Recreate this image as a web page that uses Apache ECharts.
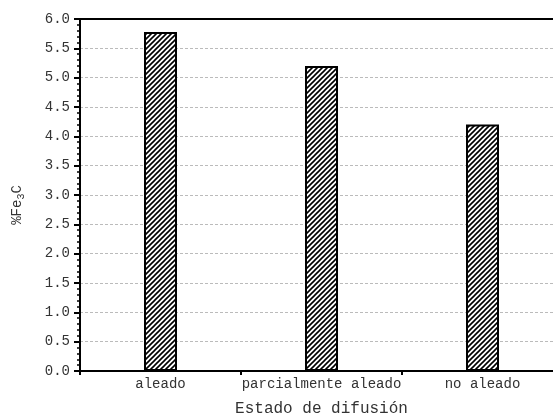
<!DOCTYPE html>
<html><head><meta charset="utf-8">
<script src="https://cdn.jsdelivr.net/npm/echarts@6/dist/echarts.min.js"></script>
<style>html,body{margin:0;padding:0;background:#fff}#c{width:553px;height:416px}</style>
</head><body><div id="c"></div>
<script>
const categories = ['aleado', 'parcialmente aleado', 'no aleado'];
const values = [5.78, 5.2, 4.2];
const yTicks = [0, 0.5, 1, 1.5, 2, 2.5, 3, 3.5, 4, 4.5, 5, 5.5, 6];

function hatch() {
  const s = 5;
  const cv = document.createElement('canvas');
  cv.width = s; cv.height = s;
  const g = cv.getContext('2d');
  g.fillStyle = '#fff'; g.fillRect(0, 0, s, s);
  g.strokeStyle = '#000'; g.lineWidth = 1.6;
  g.beginPath();
  g.moveTo(-1, s + 1); g.lineTo(s + 1, -1);
  g.moveTo(-1, 1); g.lineTo(1, -1);
  g.moveTo(s - 1, s + 1); g.lineTo(s + 1, s - 1);
  g.stroke();
  return cv;
}

const font = 'Liberation Mono, Courier New, monospace';
const chart = echarts.init(document.getElementById('c'));
chart.setOption({
  animation: false,
  grid: { left: 80, top: 19, right: -10, bottom: 45, containLabel: false, outerBoundsMode: 'none' },
  xAxis: [{
    type: 'category', data: categories,
    name: 'Estado de difusión', nameLocation: 'middle', nameGap: 30,
    nameTextStyle: { fontFamily: font, fontSize: 16, color: '#333' },
    axisLine: { lineStyle: { color: '#000', width: 2 } },
    axisTick: { show: true, length: 4, lineStyle: { color: '#000', width: 2 } },
    axisLabel: { fontFamily: font, fontSize: 14, color: '#333', margin: 6, interval: 0, hideOverlap: false }
  }, {
    type: 'category', data: categories, position: 'top',
    axisLine: { show: true, lineStyle: { color: '#000', width: 2 } },
    axisTick: { show: false }, axisLabel: { show: false }, splitLine: { show: false }
  }],
  yAxis: {
    type: 'value', min: yTicks[0], max: yTicks[yTicks.length - 1], interval: 0.5,
    name: '{a|%Fe}{s|3}{a|C}', nameLocation: 'middle', nameGap: 54,
    nameTextStyle: {
      padding: [0, 20, 0, 0],
      rich: {
        a: { fontFamily: font, fontSize: 14, color: '#333', lineHeight: 16, verticalAlign: 'top' },
        s: { fontFamily: font, fontSize: 10, color: '#333', lineHeight: 16, verticalAlign: 'bottom', padding: [10, 0, 0, 0] }
      }
    },
    axisLine: { show: true, lineStyle: { color: '#000', width: 2 } },
    axisTick: { show: true, length: 6, lineStyle: { color: '#000', width: 2 } },
    minorTick: { show: true, splitNumber: 5, length: 3, lineStyle: { color: '#000', width: 1.5 } },
    axisLabel: { fontFamily: font, fontSize: 14, color: '#333', margin: 10, formatter: v => v.toFixed(1) },
    splitLine: { show: true, lineStyle: { color: '#bbb', type: [3, 2], width: 1 } }
  },
  series: [{
    type: 'bar', data: values, barWidth: 33,
    itemStyle: { color: { image: hatch(), repeat: 'repeat' }, borderColor: '#000', borderWidth: 2 }
  }]
});
</script></body></html>
